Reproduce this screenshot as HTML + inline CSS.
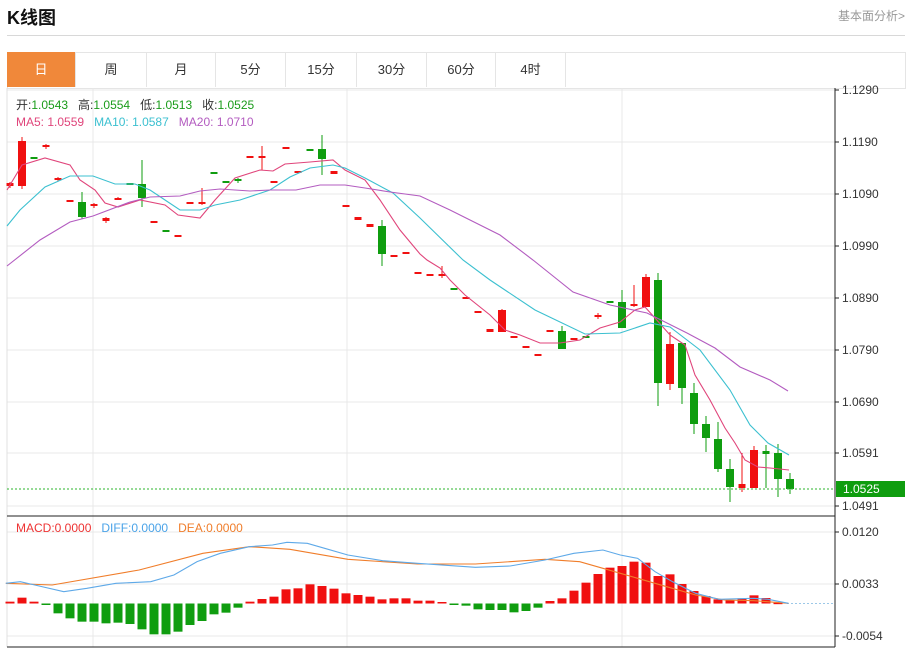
<!DOCTYPE html>
<html><head><meta charset="utf-8"><style>
body{margin:0;width:909px;height:649px;background:#fff;overflow:hidden;font-family:"Liberation Sans","Noto Sans CJK SC",sans-serif;position:relative}
.t{position:absolute;white-space:nowrap}
.tab{position:absolute;top:52px;height:35px;line-height:35px;text-align:center;font-size:13px;color:#333;border-right:1px solid #e5e5e5;box-sizing:border-box}
</style></head><body>
<div class="t" style="left:7px;top:4px;font-size:18px;font-weight:bold;color:#111">K线图</div>
<div class="t" style="left:838px;top:7px;font-size:12px;color:#999">基本面分析&gt;</div>
<div style="position:absolute;left:7px;top:35px;width:898px;height:1px;background:#d8d8d8"></div>
<div style="position:absolute;left:7px;top:52px;width:897px;height:35px;border:1px solid #e5e5e5;box-sizing:content-box"></div>
<div class="tab" style="left:7px;width:69px;background:#f0883a;color:#fff">日</div>
<div class="tab" style="left:76px;width:71px">周</div>
<div class="tab" style="left:147px;width:69px">月</div>
<div class="tab" style="left:216px;width:70px">5分</div>
<div class="tab" style="left:286px;width:71px">15分</div>
<div class="tab" style="left:357px;width:70px">30分</div>
<div class="tab" style="left:427px;width:69px">60分</div>
<div class="tab" style="left:496px;width:70px">4时</div>
<svg id="s" width="909" height="649" style="position:absolute;left:0;top:0" xmlns="http://www.w3.org/2000/svg"></svg>
<div class="t" style="left:16px;top:96px;font-size:12px;color:#333">开:<span style="color:#1a9c1a">1.0543</span>&nbsp;&nbsp; 高:<span style="color:#1a9c1a">1.0554</span>&nbsp;&nbsp; 低:<span style="color:#1a9c1a">1.0513</span>&nbsp;&nbsp; 收:<span style="color:#1a9c1a">1.0525</span></div>
<div class="t" style="left:16px;top:115px;font-size:12px"><span style="color:#e0457b">MA5: 1.0559</span>&nbsp;&nbsp; <span style="color:#3cc0d0">MA10: 1.0587</span>&nbsp;&nbsp; <span style="color:#b35cc0">MA20: 1.0710</span></div>
<div class="t" style="left:16px;top:521px;font-size:12px"><span style="color:#e33">MACD:0.0000</span>&nbsp;&nbsp; <span style="color:#4aa3e8">DIFF:0.0000</span>&nbsp;&nbsp; <span style="color:#f07d2a">DEA:0.0000</span></div>
<script>
var s=document.getElementById('s'),h='';
function L(x1,y1,x2,y2,c,w,d){h+='<line x1="'+x1+'" y1="'+y1+'" x2="'+x2+'" y2="'+y2+'" stroke="'+c+'" stroke-width="'+(w||1)+'"'+(d?' stroke-dasharray="'+d+'"':'')+'/>';}
function R(x,y,w,hh,c){h+='<rect x="'+x+'" y="'+y+'" width="'+w+'" height="'+Math.max(hh,1.5)+'" fill="'+c+'"/>';}
function T(x,y,t,c,extra){h+='<text x="'+x+'" y="'+y+'" font-size="12" fill="'+(c||'#333')+'" font-family="Liberation Sans,sans-serif" '+(extra||'')+'>'+t+'</text>';}
function P(pts,c){h+='<polyline fill="none" stroke="'+c+'" stroke-width="1.1" points="'+pts.map(function(p){return p[0]+','+p[1]}).join(' ')+'"/>';}
// grid
var gy=[90,142,194,246,298,350,402,453,506];
gy.forEach(function(y){L(7,y,835,y,'#e8e8e8');});
[532,584,636].forEach(function(y){L(7,y,835,y,'#e8e8e8');});
[93,347,622].forEach(function(x){L(x,88,x,647,'#e8e8e8');});
L(7,88,7,647,'#e0e0e0');
// candles [i, open-y top, body bottom, wick top, wick bottom, color]
var G='#0f9d0f',Rd='#f01010';
var c=[
[0,183,186,182,188,Rd],[1,141,186,137,189,Rd],[2,157,159,157,159,G],[3,145,147,144,149,Rd],[4,178,180,177,181,Rd],
[5,200,202,200,202,Rd],[6,202,217,192,219,G],[7,204,206,203,208,Rd],[8,218,221,217,223,Rd],[9,198,200,197,200,Rd],
[10,183,185,183,185,G],[11,184,198,160,207,G],[12,221,223,221,223,Rd],[13,230,232,230,232,G],[14,235,237,235,237,Rd],
[15,202,204,202,204,Rd],[16,202,204,188,205,Rd],[17,172,174,172,174,G],[18,181,183,181,183,G],[19,179,181,178,183,G],
[20,156,158,156,158,Rd],[21,156,158,146,170,Rd],[22,181,183,181,183,Rd],[23,147,149,147,149,Rd],[24,171,173,171,173,Rd],
[25,149,151,149,151,G],[26,149,159,135,175,G],[27,171,174,171,174,Rd],[28,205,207,205,207,Rd],[29,217,220,217,220,Rd],
[30,224,227,224,227,Rd],[31,226,254,220,266,G],[32,255,257,255,257,Rd],[33,252,254,252,254,Rd],[34,272,274,272,274,Rd],
[35,274,276,274,276,Rd],[36,274,276,266,278,Rd],[37,288,290,288,290,G],[38,297,299,297,299,Rd],[39,311,313,311,313,Rd],
[40,329,332,329,332,Rd],[41,310,332,309,332,Rd],[42,336,338,336,338,Rd],[43,346,348,346,348,Rd],[44,354,356,354,356,Rd],
[45,330,332,330,332,Rd],[46,331,349,326,349,G],[47,338,340,338,340,Rd],[48,336,338,336,338,G],[49,315,317,313,319,Rd],
[50,301,303,301,303,G],[51,302,328,290,328,G],[52,304,306,285,307,Rd],[53,277,307,274,307,Rd],[54,280,383,273,406,G],
[55,344,384,332,390,Rd],[56,343,388,343,404,G],[57,393,424,383,434,G],[58,424,438,416,452,G],[59,439,469,422,472,G],
[60,469,487,459,502,G],[61,484,488,453,492,Rd],[62,450,488,446,488,Rd],[63,451,454,445,488,G],[64,453,479,444,497,G],
[65,479,489,473,494,G]];
c.forEach(function(k){var x=10+12*k[0];L(x,k[3],x,k[4],k[5]);var w=(k[2]-k[1]>5)?8:7;R(x-w/2,k[1],w,k[2]-k[1],k[5]);});
P([[7,190],[22,165],[45,158],[70,165],[80,180],[95,190],[105,203],[118,207],[140,200],[165,205],[178,215],[200,218],[215,200],[235,178],[260,170],[273,171],[285,164],[310,162],[333,160],[345,170],[365,180],[380,200],[400,230],[420,254],[427,260],[440,268],[450,280],[465,295],[490,315],[505,330],[520,335],[540,343],[560,343],[580,340],[600,328],[620,322],[635,310],[645,307],[655,318],[670,335],[685,345],[695,375],[710,400],[725,428],[735,443],[745,460],[758,467],[770,468],[789,470]],'#e0457b');
P([[7,226],[20,210],[45,187],[70,176],[93,176],[115,184],[135,184],[150,190],[165,200],[180,210],[200,210],[215,205],[240,200],[270,190],[290,177],[310,168],[333,165],[345,168],[365,178],[393,193],[420,218],[463,260],[490,280],[535,310],[585,334],[620,333],[650,323],[670,327],[700,350],[730,390],[750,425],[768,443],[789,455]],'#3cc0d0');
P([[7,266],[40,240],[70,222],[93,216],[130,202],[150,197],[180,196],[200,191],[220,189],[250,191],[270,190],[296,190],[320,185],[345,185],[365,188],[390,192],[420,196],[450,210],[500,235],[533,260],[573,292],[610,305],[647,313],[687,333],[715,348],[740,367],[770,380],[788,391]],'#b35cc0');
// current price line
L(7,489,835,489,'#2bb52b',1,'2,2');
// MACD histogram
var m=[275,263,275,285,310,325,335,335,340,338,342,358,373,373,365,345,333,313,308,293,275,267,260,238,235,223,228,236,250,255,260,268,265,265,272,272,276,284,287,298,300,300,307,303,293,273,265,242,218,192,173,168,155,158,198,193,222,243,258,268,271,265,256,264,278,280];
m.forEach(function(Y,i){var x=10+12*i,y=510+Y/3,z=603.5;if(Math.abs(y-z)<0.6)return;if(y<z)R(x-4.5,y,9,z-y,'#f01010');else R(x-4.5,z,9,y-z,'#0f9d0f');});
L(787,603.5,835,603.5,'#9cc8e8',1,'2,2');
function cv(a){return a.map(function(p){return [p[0]/1.725,510+p[1]/3];});}
P(cv([[10,220],[90,225],[240,180],[350,130],[430,110],[500,118],[600,148],[720,162],[820,162],[940,148],[1000,155],[1040,175],[1100,205],[1150,230],[1200,255],[1250,270],[1300,272],[1360,280]]),'#f07d2a');
P(cv([[10,220],[35,215],[60,225],[110,245],[150,235],[200,220],[260,215],[300,195],[340,155],[380,130],[430,110],[470,105],[495,97],[530,100],[560,115],[600,135],[660,152],[720,160],[820,172],[880,168],[940,150],[990,130],[1040,120],[1070,135],[1100,145],[1130,185],[1160,215],[1200,250],[1240,268],[1300,265],[1325,268],[1360,280]]),'#5ea9e8');
// axes
L(835,88,835,647,'#222');L(7,516,835,516,'#222');L(7,647,835,647,'#222');
var lab=['1.1290','1.1190','1.1090','1.0990','1.0890','1.0790','1.0690','1.0591','1.0491'];
gy.forEach(function(y,i){L(835,y,839,y,'#222');T(842,y+4,lab[i]);});
[[532,'0.0120'],[584,'0.0033'],[636,'-0.0054']].forEach(function(a){L(835,a[0],839,a[0],'#222');T(842,a[0]+4,a[1]);});
R(836,481,69,16,'#0f9d0f');T(843,493,'1.0525','#fff');
s.innerHTML=h;
</script>
</body></html>
